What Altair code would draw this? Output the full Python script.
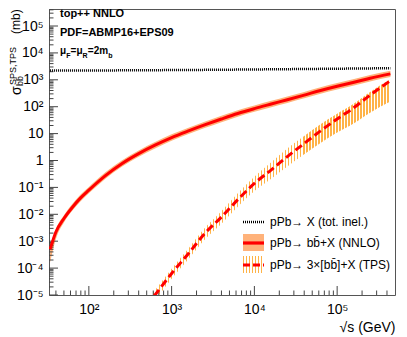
import altair as alt
import pandas as pd

# ---------------- values ----------------
sqrt_s = [34, 40, 50, 63, 79, 100, 160, 250, 400, 630, 1000, 1600, 2500, 4000,
          6300, 10000, 16000, 25000, 40000, 63000, 100000, 160000, 250000, 440000]
nnlo = [5.0e-4, 2.2e-3, 7.0e-3, 0.018, 0.040, 0.079, 0.28, 0.76, 1.8, 3.7, 7.1,
        12.6, 21, 35, 56, 85, 126, 182, 270, 400, 575, 810, 1150, 1660]
nnlo_lo = [1.6e-4, 1.2e-3, 5.0e-3, 0.0135, 0.030, 0.060, 0.213, 0.58, 1.37, 2.8, 5.4,
           9.6, 16, 26.6, 42.6, 64.6, 96, 138, 205, 304, 437, 616, 874, 1260]
nnlo_hi = [6.8e-4, 2.9e-3, 9.2e-3, 0.024, 0.053, 0.104, 0.37, 1.0, 2.38, 4.9, 9.4,
           16.6, 27.7, 46, 74, 112, 166, 240, 356, 528, 760, 1070, 1520, 2190]

sqrt_s_tps = [500, 630, 1000, 1600, 2500, 4000, 6300, 10000, 16000, 25000, 40000,
              63000, 100000, 160000, 250000, 440000]
tps = [4.0e-6, 1.0e-5, 6.3e-5, 3.5e-4, 1.9e-3, 7.9e-3, 0.035, 0.14, 0.45, 1.4, 4.3,
       12.6, 35, 93, 270, 930]
tps_lo = [2.5e-6, 6.3e-6, 4.0e-5, 2.2e-4, 1.14e-3, 4.5e-3, 0.019, 0.073, 0.21, 0.60, 1.7,
          4.5, 11, 24.5, 60, 155]
tps_hi = [6.0e-6, 1.5e-5, 9.5e-5, 5.4e-4, 3.0e-3, 0.013, 0.061, 0.25, 0.86, 2.8, 8.2,
          22.4, 55, 131, 355, 1040]

sqrt_s_inel = [34, 300, 3000, 30000, 440000]
inel = [2200, 2250, 2350, 2500, 2700]

x_tick_values = [100, 1000, 10000, 100000]
x_tick_labels = ["10²", "10³", "10⁴", "10⁵"]
y_tick_values = [1e-5, 1e-4, 1e-3, 1e-2, 1e-1, 1, 10, 100, 1e3, 1e4, 1e5]
y_tick_labels = ["10⁻⁵", "10⁻⁴", "10⁻³", "10⁻²", "10⁻¹", "1", "10", "10²", "10³", "10⁴", "10⁵"]

legend_labels = ["pPb→ X (tot. inel.)", "pPb→ bb̄+X (NNLO)", "pPb→ 3×[bb̄]+X (TPS)"]
info_lines = ["top++ NNLO", "PDF=ABMP16+EPS09"]
y_title_parts = ["σ", "SPS,TPS", "bb̄", "(mb)"]

# ---------------- layout / style ----------------
W, H = 346, 286
FONT = "Liberation Sans"
TICK = "#444"
RED = "#ff0000"
BAND = "#ffb27a"
HATCH = "#ffb347"

xs = alt.Scale(type="log", domain=[33, 5e5])
ys = alt.Scale(type="log", domain=[1e-5, 4.29e5])


def ternary(vals, labs):
    expr = "'" + labs[-1] + "'"
    for v, l in zip(reversed(vals[:-1]), reversed(labs[:-1])):
        expr = f"datum.value < {v * 1.5:g} ? '{l}' : ({expr})"
    return expr


xaxis = alt.Axis(values=x_tick_values, labelExpr=ternary(x_tick_values, x_tick_labels),
                 ticks=False, tickSize=0, domain=False, grid=False,
                 labelFont=FONT, labelFontSize=14, labelColor="black", labelPadding=7,
                 labelOverlap=False, labelFlush=False,
                 title="√s (GeV)", titleFont=FONT, titleFontSize=14, titleFontWeight="normal",
                 titleColor="black", titleAlign="right", titleX=W, titleY=36,
                 titleBaseline="alphabetic")
yaxis = alt.Axis(values=y_tick_values, labelExpr=ternary(y_tick_values, y_tick_labels),
                 ticks=False, tickSize=0, domain=False, grid=False,
                 labelFont=FONT, labelFontSize=14, labelColor="black", labelPadding=6,
                 labelOverlap=False, labelFlush=False, title="")


def hatch(n, color=HATCH, frac=0.45):
    stops = []
    for i in range(n):
        a, b, c = round(i / n, 5), round((i + frac) / n, 5), round((i + 1) / n, 5)
        stops += [alt.GradientStop(color=color, offset=a), alt.GradientStop(color=color, offset=b),
                  alt.GradientStop(color="white", offset=b), alt.GradientStop(color="white", offset=c)]
    return alt.LinearGradient(gradient="linear", stops=stops, x1=0, x2=1, y1=0, y2=0)


df_nnlo = pd.DataFrame({"s": sqrt_s, "v": nnlo, "lo": nnlo_lo, "hi": nnlo_hi})
df_tps = pd.DataFrame({"s": sqrt_s_tps, "v": tps, "lo": tps_lo, "hi": tps_hi})
df_inel = pd.DataFrame({"s": sqrt_s_inel, "v": inel})

X = alt.X("s:Q", scale=xs, axis=xaxis)

band_nnlo = alt.Chart(df_nnlo).mark_area(color=BAND, clip=True, interpolate="monotone").encode(
    x=X, y=alt.Y("lo:Q", scale=ys, axis=yaxis), y2="hi:Q")
band_tps = alt.Chart(df_tps).mark_area(fill=hatch(81), clip=True, interpolate="monotone").encode(
    x=X, y=alt.Y("lo:Q", scale=ys, axis=yaxis), y2="hi:Q")
line_inel = alt.Chart(df_inel).mark_line(color="black", strokeDash=[1, 1], strokeWidth=2.5,
                                         clip=True).encode(
    x=X, y=alt.Y("v:Q", scale=ys, axis=yaxis))
line_nnlo = alt.Chart(df_nnlo).mark_line(color=RED, strokeWidth=3, clip=True,
                                         interpolate="monotone").encode(
    x=X, y=alt.Y("v:Q", scale=ys, axis=yaxis))
line_tps = alt.Chart(df_tps).mark_line(color=RED, strokeWidth=3, strokeDash=[8, 4], clip=True,
                                       interpolate="monotone").encode(
    x=X, y=alt.Y("v:Q", scale=ys, axis=yaxis))

# inward ticks (ROOT style)
x_minor = [m * 10 ** e for e in range(1, 6) for m in range(2, 10) if 33 < m * 10 ** e < 5e5]
y_minor = [m * 10.0 ** e for e in range(-5, 6) for m in range(2, 10) if m * 10.0 ** e < 4.29e5]


def xticks(vals, length):
    return alt.Chart(pd.DataFrame({"s": vals})).mark_rule(color=TICK, strokeWidth=1).encode(
        x=X, y=alt.value(H), y2=alt.value(H - length))


def yticks(vals, length):
    return alt.Chart(pd.DataFrame({"v": vals})).mark_rule(color=TICK, strokeWidth=1).encode(
        y=alt.Y("v:Q", scale=ys, axis=yaxis), x=alt.value(0), x2=alt.value(length))


def text(txt, x, y, size, weight="normal", angle=None, baseline="alphabetic"):
    kw = dict(font=FONT, fontSize=size, fontWeight=weight, align="left", baseline=baseline,
              color="black")
    if angle is not None:
        kw["angle"] = angle
    return alt.Chart(pd.DataFrame({"t": [txt]})).mark_text(**kw).encode(
        x=alt.value(x), y=alt.value(y), text="t:N")


dummy = pd.DataFrame({"k": [0]})

annot = [
    text(info_lines[0], 11, 8, 11, "bold"),
    text(info_lines[1], 11, 27, 11, "bold"),
    text("μ", 11, 45, 10, "bold"),
    text("F", 17.3, 49, 7, "bold"),
    text("=μ", 21.6, 45, 10, "bold"),
    text("R", 33.6, 49, 7, "bold"),
    text("=2m", 38.8, 45, 10, "bold"),
    text("b", 59.2, 49, 7, "bold"),
    # y-axis title, rotated
    text(y_title_parts[0], -28, 86, 14, angle=270),
    text(y_title_parts[1], -33, 76, 9, angle=270),
    text(y_title_parts[2], -26, 77, 9, angle=270),
    text(y_title_parts[3], -29, 25, 12, angle=270),
]

legend = [
    alt.Chart(dummy).mark_rule(color="black", strokeDash=[1, 1], strokeWidth=2.5).encode(
        x=alt.value(194), x2=alt.value(215), y=alt.value(213)),
    alt.Chart(dummy).mark_rect(color=BAND).encode(
        x=alt.value(194), x2=alt.value(215), y=alt.value(225), y2=alt.value(242)),
    alt.Chart(dummy).mark_rule(color=RED, strokeWidth=3.2).encode(
        x=alt.value(194), x2=alt.value(215), y=alt.value(234)),
    alt.Chart(dummy).mark_rect(fill=hatch(7)).encode(
        x=alt.value(194), x2=alt.value(215), y=alt.value(247), y2=alt.value(264)),
    alt.Chart(dummy).mark_rule(color=RED, strokeWidth=3, strokeDash=[7, 3]).encode(
        x=alt.value(194), x2=alt.value(215), y=alt.value(256)),
    text(legend_labels[0], 221, 213, 12, baseline="middle"),
    text(legend_labels[1], 221, 234, 12, baseline="middle"),
    text(legend_labels[2], 221, 256, 12, baseline="middle"),
]

chart = alt.layer(
    band_nnlo, band_tps,
    xticks(x_tick_values, 9), xticks(x_minor, 4.5),
    yticks(y_tick_values, 9), yticks(y_minor, 4.5),
    line_inel, line_nnlo, line_tps,
    *annot, *legend,
).properties(
    width=W, height=H,
    padding={"left": 41, "top": 1, "right": 4, "bottom": 42},
    autosize=alt.AutoSizeParams(type="none"),
).configure_view(stroke="#555", strokeWidth=1)

chart.save("out.html", embed_options={"renderer": "svg", "actions": False})
